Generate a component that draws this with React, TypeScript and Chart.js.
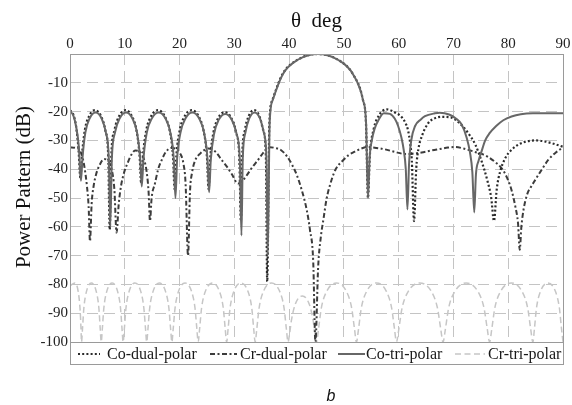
import React, { useEffect, useRef } from 'react';
import { Chart, registerables } from 'chart.js';

Chart.register(...registerables);

// ---- data: [theta (deg), power (dB)] ----
const xTickValues = [0, 10, 20, 30, 40, 50, 60, 70, 80, 90];
const yTickValues = [-100, -90, -80, -70, -60, -50, -40, -30, -20, -10, 0];

const coDualPoints: [number, number][] = [
  [0, -19.5], [0.6, -21], [1.1, -25], [1.55, -33], [1.9, -43],
  [2.17, -35.5], [2.7, -26.5], [3.5, -21.5], [4.58, -19.5], [5.65, -21.5], [6.45, -26.5], [6.98, -35.5], [7.25, -61],
  [7.54, -35.5], [8.11, -26.5], [8.98, -21.5], [10.13, -19.5], [11.28, -21.5], [12.14, -26.5], [12.71, -35.5], [13.0, -45],
  [13.31, -35.5], [13.92, -26.5], [14.83, -21.5], [16.05, -19.5], [17.27, -21.5], [18.19, -26.5], [18.8, -35.5], [19.1, -47],
  [19.41, -35.5], [20.03, -26.5], [20.96, -21.5], [22.2, -19.5], [23.44, -21.5], [24.37, -26.5], [24.99, -35.5], [25.3, -47],
  [25.6, -36.2], [26.19, -27.2], [27.07, -22.2], [28.25, -20.2], [29.43, -22.2], [30.32, -27.2], [30.91, -36.2], [31.2, -58],
  [31.44, -35.5], [31.92, -26.5], [32.64, -21.5], [33.6, -19.5], [34.56, -21.5], [35.28, -26.5], [35.76, -35.5], [36.0, -79],
  [36.4, -24], [36.95, -16], [38.8, -7], [41.55, -2], [45.2, 0], [48.9, -2], [51.65, -7], [53.48, -16], [54.03, -24], [54.4, -50],
  [54.74, -35.2], [55.42, -26.2], [56.44, -21.2], [57.8, -19.2], [59.5, -20.5], [60.5, -21.8], [61.2, -23.8], [61.7, -26.4], [62.1, -31], [62.4, -37], [62.8, -58],
  [63.2, -40], [63.6, -33], [64.2, -28.7], [65.4, -24], [66.5, -22.4], [67.8, -21.8], [69.5, -22], [71, -23.8], [72.7, -27.5], [74, -31.5], [75.1, -37], [76.2, -44], [76.9, -50], [77.4, -58],
  [77.9, -47], [78.5, -41], [79.5, -36], [80.6, -33.3], [82, -31.3], [83.5, -30.3], [85, -30], [86.5, -30.3], [88, -31], [90, -32.2],
];

const crDualPoints: [number, number][] = [
  [0, -32.4], [1.0, -32.6], [1.8, -33.5], [2.3, -36], [2.7, -40], [3.1, -46], [3.4, -53], [3.65, -65],
  [3.95, -52], [4.3, -46], [4.8, -41.5], [5.3, -39], [6.2, -36.5], [7.0, -37.2], [7.6, -40], [8.1, -47], [8.5, -62],
  [8.9, -52], [9.3, -46], [9.9, -41], [10.6, -37.5], [11.2, -35], [11.9, -33.5], [12.8, -34], [13.5, -36.5], [14.0, -41], [14.35, -48], [14.6, -58],
  [14.9, -50], [15.5, -45], [16.1, -40], [16.7, -37], [17.5, -34], [18.5, -32.6], [19.4, -33], [20.1, -34.5], [20.7, -38], [21.1, -45], [21.55, -70],
  [21.9, -48], [22.3, -41], [22.8, -37.2], [23.8, -34.5], [25.3, -32.8], [26.6, -34], [27.7, -36.8], [28.6, -39], [29.5, -41.6], [30.7, -45],
  [31.5, -44], [32.2, -42.3], [33.4, -39], [34.4, -36.6], [35.4, -34], [36.5, -32.4], [37.6, -32.7], [38.6, -33.5], [39.6, -35.5], [40.5, -38.3],
  [41.4, -42], [42.3, -47.2], [43.2, -54], [43.8, -61], [44.4, -72], [44.8, -100],
  [45.3, -74], [45.8, -63.4], [46.3, -57], [46.8, -50.7], [47.7, -44], [48.5, -40], [49.6, -37.4], [50.8, -35.2], [52, -33.9], [53.2, -32.8],
  [54.3, -32.3], [55.9, -32.6], [57.5, -33.1], [59.3, -34], [61.1, -34.7], [62.6, -34.6], [64.2, -34.2], [66, -33.5], [67.5, -33], [69, -32.5],
  [70.3, -32.3], [72, -32.9], [73.9, -34], [75.2, -34.7], [76.3, -35.7], [77.6, -37.5], [78.8, -39.7], [79.8, -43], [80.6, -47.2], [81.3, -53],
  [81.8, -59], [82.1, -68], [82.4, -60], [82.8, -54], [83.5, -48.5], [84.2, -46], [84.9, -43.8], [86, -40.5], [87.3, -36.8], [88.7, -34.2], [90, -32.4],
];

const coTriPoints: [number, number][] = [
  [0, -19.8], [0.6, -21.3], [1.1, -25], [1.6, -32], [2.0, -44],
  [2.27, -36.3], [2.8, -27.3], [3.6, -22.3], [4.68, -20.3], [5.75, -22.3], [6.55, -27.3], [7.08, -36.3], [7.35, -60],
  [7.64, -36.3], [8.21, -27.3], [9.08, -22.3], [10.23, -20.3], [11.38, -22.3], [12.24, -27.3], [12.81, -36.3], [13.1, -46],
  [13.41, -36.3], [14.02, -27.3], [14.95, -22.3], [16.18, -20.3], [17.41, -22.3], [18.33, -27.3], [18.94, -36.3], [19.25, -50],
  [19.56, -36.3], [20.17, -27.3], [21.1, -22.3], [22.33, -20.3], [23.56, -22.3], [24.48, -27.3], [25.09, -36.3], [25.4, -48],
  [25.7, -36.8], [26.29, -27.8], [27.17, -22.8], [28.35, -20.8], [29.53, -22.8], [30.42, -27.8], [31.0, -36.8], [31.3, -63],
  [31.54, -36.3], [32.02, -27.3], [32.74, -22.3], [33.7, -20.3], [34.66, -22.3], [35.38, -27.3], [35.86, -36.3], [36.1, -70],
  [36.45, -24], [37.0, -16], [38.85, -7], [41.59, -2], [45.25, 0], [48.91, -2], [51.66, -7], [53.49, -16], [54.05, -24], [54.4, -50],
  [54.7, -36], [55.1, -30], [55.6, -26], [56.3, -23], [57.3, -20.6], [58.4, -20.8], [59.3, -22.5], [59.9, -25], [60.5, -29], [60.9, -33], [61.3, -40], [61.6, -54],
  [61.9, -38], [62.3, -30], [63, -25], [64, -22.8], [64.8, -21.6], [66.6, -20.6], [67.5, -20.4], [69.2, -21], [70.5, -22.5], [71.5, -24.5], [72.4, -29], [73.0, -34], [73.45, -41], [73.8, -55],
  [74.1, -42], [74.6, -37], [75.1, -34], [75.8, -30], [76.6, -27.5], [77.8, -25], [79.1, -23], [80.6, -21.7], [82.3, -20.9], [84.5, -20.6], [90, -20.6],
];

const crTriPoints: [number, number][] = [
  [0, -80.5], [0.9, -79.5], [1.5, -82.5], [1.85, -89], [2.0, -95], [2.1, -100],
  [2.28, -95.5], [2.53, -88.2], [3.0, -82.5], [3.9, -79.5], [4.8, -82.5], [5.27, -88.2], [5.52, -95.5], [5.7, -100],
  [5.9, -95.5], [6.18, -88.2], [6.7, -82.5], [7.7, -79.5], [8.7, -82.5], [9.22, -88.2], [9.5, -95.5], [9.7, -100],
  [9.92, -95.5], [10.22, -88.2], [10.78, -82.5], [11.85, -79.5], [12.93, -82.5], [13.48, -88.2], [13.79, -95.5], [14.0, -100],
  [14.23, -95.5], [14.55, -88.2], [15.15, -82.5], [16.3, -79.5], [17.45, -82.5], [18.05, -88.2], [18.37, -95.5], [18.6, -100],
  [18.84, -95.5], [19.18, -88.2], [19.8, -82.5], [21.0, -79.5], [22.2, -82.5], [22.82, -88.2], [23.16, -95.5], [23.4, -100],
  [23.66, -95.5], [24.02, -88.2], [24.7, -82.5], [26.0, -79.5], [27.3, -82.5], [27.98, -88.2], [28.34, -95.5], [28.6, -100],
  [28.86, -95.5], [29.22, -88.2], [29.9, -82.5], [31.2, -79.5], [32.5, -82.5], [33.18, -88.2], [33.54, -95.5], [33.8, -100],
  [34.1, -95.5], [34.52, -88.2], [35.3, -82.5], [36.8, -79.5], [38.3, -82.5], [39.08, -88.2], [39.5, -95.5], [39.8, -100],
  [40.1, -97], [40.42, -92.5], [41.1, -87], [42.4, -84], [43.7, -87], [44.38, -92.5], [44.7, -97], [45.0, -100],
  [45.37, -95.5], [45.88, -88.2], [46.83, -82.5], [48.65, -79.5], [50.48, -82.5], [51.42, -88.2], [51.94, -95.5], [52.3, -100],
  [52.67, -95.5], [53.18, -88.2], [54.13, -82.5], [55.95, -79.5], [57.78, -82.5], [58.72, -88.2], [59.24, -95.5], [59.6, -100],
  [60.03, -95.5], [60.62, -88.2], [61.73, -82.5], [63.85, -79.5], [65.98, -82.5], [67.08, -88.2], [67.68, -95.5], [68.1, -100],
  [68.53, -95.5], [69.12, -88.2], [70.23, -82.5], [72.35, -79.5], [74.48, -82.5], [75.58, -88.2], [76.18, -95.5], [76.6, -100],
  [77.0, -95.5], [77.55, -88.2], [78.58, -82.5], [80.55, -79.5], [82.53, -82.5], [83.55, -88.2], [84.1, -95.5], [84.5, -100],
  [84.78, -95.5], [85.16, -88.2], [85.88, -82.5], [87.25, -79.5], [88.63, -82.5], [89.34, -88.2], [89.73, -95.5], [90, -100],
];

const seriesLabels = ['Co-dual-polar', 'Cr-dual-polar', 'Co-tri-polar', 'Cr-tri-polar'];
const xTitle = 'θ  deg';
const yTitle = 'Power Pattern (dB)';
const figureLabel = 'b';

const SERIF = '"Liberation Serif", "Times New Roman", serif';
const SANS = '"Liberation Sans", Arial, sans-serif';

const styles = [
  { color: '#2b2b2b', width: 2.2, dash: [2, 2.2] },
  { color: '#3c3c3c', width: 2, dash: [5, 2.5, 2, 2.5] },
  { color: '#676767', width: 2, dash: [] as number[] },
  { color: '#c6c6c6', width: 1.5, dash: [6, 3.5] },
];

const toXY = (pts: [number, number][]) => pts.map(([x, y]) => ({ x, y }));

const decorPlugin = {
  id: 'decor',
  afterDraw(chart: any) {
    const { ctx, chartArea } = chart;
    const { left, right, top, bottom } = chartArea;
    ctx.save();
    // frame
    ctx.strokeStyle = '#9a9a9a';
    ctx.lineWidth = 1;
    ctx.setLineDash([]);
    ctx.strokeRect(Math.round(left) + 0.5, Math.round(top) + 0.5, Math.round(right - left), Math.round(bottom - top));
    // legend box
    const ly = Math.round(bottom) + 0.5;
    ctx.strokeRect(Math.round(left) + 0.5, ly, Math.round(right - left), 22);
    const cy = ly + 11.5;
    const items = [
      { x0: 78, x1: 100, tx: 107 },
      { x0: 210, x1: 237, tx: 240 },
      { x0: 338, x1: 365, tx: 366 },
      { x0: 455, x1: 485, tx: 488 },
    ];
    items.forEach((it, i) => {
      const st = styles[i];
      ctx.beginPath();
      ctx.strokeStyle = st.color;
      ctx.lineWidth = st.width;
      ctx.setLineDash(st.dash);
      ctx.moveTo(it.x0, cy);
      ctx.lineTo(it.x1, cy);
      ctx.stroke();
      ctx.setLineDash([]);
      ctx.fillStyle = '#1a1a1a';
      ctx.font = `16px ${SERIF}`;
      ctx.textAlign = 'left';
      ctx.textBaseline = 'middle';
      ctx.fillText(seriesLabels[i], it.tx, cy + 0.5);
    });
    // y title
    ctx.save();
    ctx.translate(24, 187);
    ctx.rotate(-Math.PI / 2);
    ctx.font = `21px ${SERIF}`;
    ctx.fillStyle = '#111';
    ctx.textAlign = 'center';
    ctx.textBaseline = 'middle';
    ctx.fillText(yTitle, 0, 0);
    ctx.restore();
    // figure label
    ctx.font = `italic 16px ${SANS}`;
    ctx.fillStyle = '#111';
    ctx.textAlign = 'center';
    ctx.textBaseline = 'alphabetic';
    ctx.fillText(figureLabel, 331, 401);
    ctx.restore();
  },
};

export default function App() {
  const ref = useRef<HTMLCanvasElement>(null);
  useEffect(() => {
    document.body.style.margin = '0';
    const all = [coDualPoints, crDualPoints, coTriPoints, crTriPoints];
    const orders = [1, 2, 0, 3];
    const chart = new Chart(ref.current as HTMLCanvasElement, {
      type: 'line',
      data: {
        datasets: all.map((pts, i) => ({
          label: seriesLabels[i],
          data: toXY(pts),
          borderColor: styles[i].color,
          borderWidth: styles[i].width,
          borderDash: styles[i].dash,
          pointRadius: 0,
          fill: false,
          cubicInterpolationMode: 'monotone' as const,
          order: orders[i],
        })),
      },
      options: {
        animation: false,
        responsive: false,
        devicePixelRatio: 1,
        layout: { padding: { left: 0, right: 9, top: 0, bottom: 63 } },
        plugins: { legend: { display: false }, tooltip: { enabled: false } },
        scales: {
          x: {
            type: 'linear',
            position: 'top',
            min: xTickValues[0],
            max: xTickValues[xTickValues.length - 1],
            afterFit: (s: any) => { s.height = 54; },
            ticks: {
              stepSize: 10,
              padding: 1,
              autoSkip: false,
              maxRotation: 0,
              color: '#222',
              font: { family: SERIF, size: 15 },
            },
            grid: { color: '#c4c4c4', lineWidth: 1, drawTicks: false },
            border: { display: false, dash: [11, 6] },
            title: {
              display: true,
              text: xTitle,
              color: '#111',
              font: { family: SERIF, size: 21 },
              padding: { top: 9, bottom: 0 },
            },
          },
          y: {
            type: 'linear',
            min: yTickValues[0],
            max: yTickValues[yTickValues.length - 1],
            afterFit: (s: any) => { s.width = 70; },
            ticks: {
              stepSize: 10,
              padding: 2,
              color: '#222',
              font: { family: SERIF, size: 15 },
              callback: (v: any) => (Number(v) === 0 ? '' : String(v)),
            },
            grid: { color: '#c4c4c4', lineWidth: 1, drawTicks: false },
            border: { display: false, dash: [11, 6] },
          },
        },
      } as any,
      plugins: [decorPlugin],
    });
    return () => chart.destroy();
  }, []);
  return (
    <div style={{ position: 'absolute', left: 0, top: 0, width: 572, height: 405, background: '#fff' }}>
      <canvas ref={ref} width={572} height={405} style={{ display: 'block' }} />
    </div>
  );
}
